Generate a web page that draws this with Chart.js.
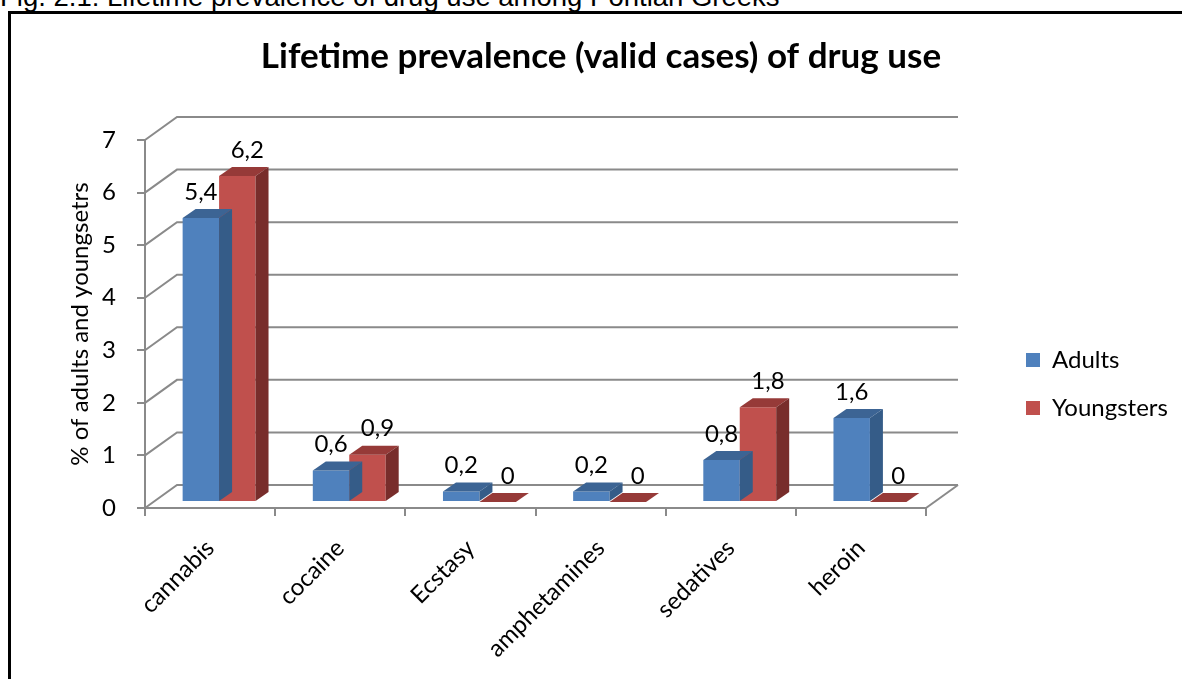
<!DOCTYPE html>
<html>
<head>
<meta charset="utf-8">
<script src="https://cdn.jsdelivr.net/npm/chart.js@4.4.0/dist/chart.umd.min.js"></script>
<style>
  html, body { margin: 0; padding: 0; background: #fff; overflow: hidden; }
  #caption {
    position: absolute; left: 0; top: -17px;
    font: 27.5px "Liberation Sans", Arial, sans-serif; line-height: 27.5px;
    white-space: nowrap; color: #000;
  }
  #frame {
    position: absolute; left: 8px; top: 11px; width: 1200px; height: 700px;
    border: 3px solid #000; box-sizing: border-box;
  }
  #wrap { position: absolute; left: 0; top: 0; width: 1182px; height: 679px; }
</style>
</head>
<body>
<div id="caption">Fig. 2.1: Lifetime prevalence of drug use among Pontian Greeks</div>
<div id="frame"></div>
<div id="wrap"><canvas id="chart" width="1182" height="679"></canvas></div>
<script>
const categories = ['cannabis', 'cocaine', 'Ecstasy', 'amphetamines', 'sedatives', 'heroin'];
const adults = [5.4, 0.6, 0.2, 0.2, 0.8, 1.6];
const youngsters = [6.2, 0.9, 0, 0, 1.8, 0];
const yTicks = [0, 1, 2, 3, 4, 5, 6, 7];

const FONT = 'Lato';
const GRID = '#8a8a8a';

// front / top / side colours of the two series
const faces = [
    { front: '#4F81BD', top: '#3C6494', side: '#355C88' },
    { front: '#C0504D', top: '#963A38', side: '#782D2B' }
];

const WALL = { x: 32, y: -23 };      // back wall offset from the axes
const BAR_SHIFT = { x: 9, y: -6 };   // bars stand a bit behind the front edge
const BAR_DEPTH = { x: 13, y: -9 };
const LABEL_SHIFT = [0, 10];

// back wall gridlines and the floor edge
const wallPlugin = {
    id: 'wall',
    beforeDatasetsDraw(chart) {
        const { ctx, chartArea: a } = chart;
        const y = chart.scales.y;
        ctx.save();
        ctx.strokeStyle = GRID;
        ctx.lineWidth = 2;
        y.ticks.forEach(t => {
            const py = y.getPixelForValue(t.value);
            ctx.beginPath();
            ctx.moveTo(a.left, py);
            ctx.lineTo(a.left + WALL.x, py + WALL.y);
            ctx.lineTo(a.right + WALL.x, py + WALL.y);
            ctx.stroke();
        });
        const p0 = y.getPixelForValue(0);
        ctx.beginPath();
        ctx.moveTo(a.right, p0);
        ctx.lineTo(a.right + WALL.x, p0 + WALL.y);
        ctx.stroke();
        ctx.restore();
    }
};

// 3d look: shift the bars back and add top and side faces
const boxPlugin = {
    id: 'box',
    beforeDatasetDraw(chart) {
        chart.ctx.save();
        chart.ctx.translate(BAR_SHIFT.x, BAR_SHIFT.y);
    },
    afterDatasetDraw(chart, args) {
        const ctx = chart.ctx;
        const f = faces[args.index];
        args.meta.data.forEach(bar => {
            const { x, y, base, width } = bar.getProps(['x', 'y', 'base', 'width'], true);
            const l = x - width / 2, r = x + width / 2;
            ctx.fillStyle = f.top;
            ctx.beginPath();
            ctx.moveTo(l, y);
            ctx.lineTo(r, y);
            ctx.lineTo(r + BAR_DEPTH.x, y + BAR_DEPTH.y);
            ctx.lineTo(l + BAR_DEPTH.x, y + BAR_DEPTH.y);
            ctx.closePath();
            ctx.fill();
            ctx.fillStyle = f.side;
            ctx.beginPath();
            ctx.moveTo(r, y);
            ctx.lineTo(r + BAR_DEPTH.x, y + BAR_DEPTH.y);
            ctx.lineTo(r + BAR_DEPTH.x, base + BAR_DEPTH.y);
            ctx.lineTo(r, base);
            ctx.closePath();
            ctx.fill();
        });
        ctx.restore();
    },
    afterDatasetsDraw(chart) {
        const ctx = chart.ctx;
        ctx.save();
        ctx.font = '24px ' + FONT;
        ctx.fillStyle = '#000';
        ctx.textAlign = 'center';
        ctx.textBaseline = 'middle';
        chart.data.datasets.forEach((ds, i) => {
            chart.getDatasetMeta(i).data.forEach((bar, j) => {
                const { x, y } = bar.getProps(['x', 'y'], true);
                const txt = String(ds.data[j]).replace('.', ',');
                ctx.fillText(txt, x + BAR_SHIFT.x + LABEL_SHIFT[i], y + BAR_SHIFT.y - 26);
            });
        });
        ctx.restore();
    },
    // title and legend sit where the layout would not put them
    afterLayout(chart) {
        const t = chart.titleBlock;
        t.left = 20; t.right = 1182; t.width = 1162;
        const lg = chart.legend;
        lg.left = 1002; lg.right = 1182; lg.width = 180;
        lg.top = 324; lg.bottom = 679; lg.height = 355;
    }
};

function draw() {
    new Chart(document.getElementById('chart'), {
        type: 'bar',
        data: {
            labels: categories,
            datasets: [
                { label: 'Adults', data: adults, backgroundColor: faces[0].front, borderWidth: 0, clip: false },
                { label: 'Youngsters', data: youngsters, backgroundColor: faces[1].front, borderWidth: 0, clip: false }
            ]
        },
        options: {
            responsive: false,
            animation: false,
            devicePixelRatio: 1,
            categoryPercentage: 0.56,
            barPercentage: 1,
            layout: { padding: { left: 0, right: 106, top: 0, bottom: 0 } },
            plugins: {
                title: {
                    display: true,
                    text: 'Lifetime prevalence (valid cases) of drug use',
                    color: '#000',
                    font: { family: FONT, size: 35, weight: 'bold', lineHeight: 1.2 },
                    padding: { top: 36, bottom: 62 }
                },
                legend: {
                    position: 'right',
                    align: 'start',
                    maxWidth: 150,
                    labels: {
                        color: '#000',
                        font: { family: FONT, size: 24 },
                        boxWidth: 14,
                        boxHeight: 14,
                        padding: 24
                    }
                },
                tooltip: { enabled: false }
            },
            scales: {
                x: {
                    grid: { drawOnChartArea: false, color: GRID, lineWidth: 2, tickLength: 8 },
                    border: { color: GRID, width: 2 },
                    ticks: {
                        color: '#000', font: { family: FONT, size: 24 },
                        minRotation: 45, maxRotation: 45, autoSkip: false, padding: 18
                    },
                    afterFit(scale) { scale.height = 171; }
                },
                y: {
                    min: 0,
                    max: 7,
                    afterBuildTicks(scale) { scale.ticks = yTicks.map(v => ({ value: v })); },
                    grid: { drawOnChartArea: false, color: GRID, lineWidth: 2, tickLength: 8 },
                    border: { color: GRID, width: 2 },
                    ticks: { color: '#000', font: { family: FONT, size: 24 }, padding: 21 },
                    title: {
                        display: true,
                        text: '% of adults and youngsetrs',
                        color: '#000',
                        font: { family: FONT, size: 24 },
                        padding: { top: 66, bottom: 0 }
                    },
                    afterFit(scale) { scale.width = 145; }
                }
            }
        },
        plugins: [wallPlugin, boxPlugin]
    });
}

Promise.all([
    document.fonts.load('24px ' + FONT),
    document.fonts.load('bold 35px ' + FONT)
]).then(draw, draw);
</script>
</body>
</html>
